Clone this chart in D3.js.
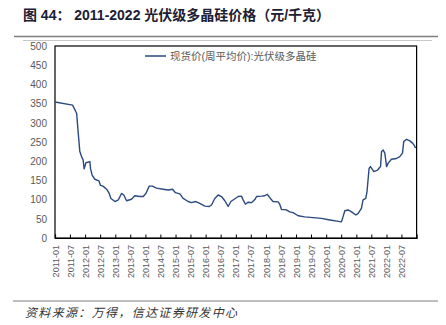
<!DOCTYPE html>
<html><head><meta charset="utf-8">
<script src="https://cdn.jsdelivr.net/npm/d3@7"></script>
<style>body{margin:0;background:#fff;} svg{display:block}</style>
</head><body>
<svg id="c" width="446" height="325"></svg>
<script>
const dates = ["2011-01-01","2011-08-02","2011-09-20","2011-10-09","2011-10-29","2011-11-19","2011-12-08","2011-12-20","2012-01-11","2012-02-28","2012-03-07","2012-03-26","2012-04-28","2012-06-16","2012-07-06","2012-08-04","2012-09-18","2012-10-19","2012-11-09","2012-12-28","2013-02-06","2013-03-17","2013-04-14","2013-05-17","2013-07-16","2013-08-26","2013-10-26","2013-12-05","2014-01-07","2014-02-16","2014-03-25","2014-05-15","2014-08-04","2014-10-04","2014-11-26","2014-12-30","2015-02-23","2015-04-03","2015-06-03","2015-07-13","2015-09-04","2015-10-22","2015-12-22","2016-02-13","2016-03-12","2016-04-21","2016-06-01","2016-07-11","2016-08-21","2016-09-30","2016-11-02","2016-12-12","2017-01-30","2017-03-10","2017-03-29","2017-04-28","2017-05-29","2017-07-10","2017-08-19","2017-09-09","2017-11-09","2017-12-18","2018-01-16","2018-02-24","2018-03-28","2018-05-28","2018-06-17","2018-07-08","2018-08-29","2018-10-17","2018-11-26","2019-01-27","2019-04-16","2019-07-26","2019-11-05","2020-02-15","2020-05-12","2020-07-04","2020-07-23","2020-08-14","2020-09-23","2020-11-04","2020-12-26","2021-01-23","2021-03-03","2021-03-23","2021-04-25","2021-05-10","2021-06-04","2021-06-21","2021-08-01","2021-09-15","2021-10-21","2021-11-02","2021-11-22","2021-12-12","2022-01-02","2022-01-22","2022-03-02","2022-05-02","2022-06-11","2022-07-14","2022-07-29","2022-09-01","2022-10-11","2022-11-13","2022-12-02","2022-12-19"];
const prices = [354,346,325,275,225,212,203,180,196,199,180,164,153,149,137,135,127,116,103,95,99,116,112,97,101,110,108,108,116,135,135,130,127,125,127,118,115,103,95,92,95,90,83,82,86,103,112,108,97,82,95,101,108,109,100,88,93,92,100,108,109,110,114,103,95,94,88,74,74,68,66,58,55,53,51,47,44,42,55,71,73,68,60,64,77,99,103,121,181,186,173,177,186,225,229,221,186,195,205,207,212,221,251,257,253,247,242,234];
const xTickLabels = ["2011-01","2011-07","2012-01","2012-07","2013-01","2013-07","2014-01","2014-07","2015-01","2015-07","2016-01","2016-07","2017-01","2017-07","2018-01","2018-07","2019-01","2019-07","2020-01","2020-07","2021-01","2021-07","2022-01","2022-07"];
const yTicks = [0,50,100,150,200,250,300,350,400,450,500];
const seriesName = "现货价(周平均价):光伏级多晶硅";
const titleText = "图 44： 2011-2022 光伏级多晶硅价格（元/千克）";
const sourceText = "资料来源：万得，信达证券研发中心";

const svg = d3.select("#c");
const parse = d3.timeParse("%Y-%m-%d");
const parseM = d3.timeParse("%Y-%m");
const data = dates.map((d,i)=>({d:parse(d), v:prices[i]}));

const L=55, R=416.6, T=46, B=238;
const x = d3.scaleTime().domain([parse("2011-01-01"), parse("2023-01-01")]).range([L,R]);
const y = d3.scaleLinear().domain([0,500]).range([B,T]);

const font = "'Liberation Sans', Arial, 'Noto Sans CJK SC', sans-serif";
const cjk = "'Liberation Sans', 'Noto Sans CJK SC', sans-serif";

// title
svg.append("text").attr("x",23).attr("y",20)
  .attr("font-family",cjk).attr("font-weight","bold").attr("font-size",14)
  .attr("fill","#1c2033").attr("textLength",307).attr("lengthAdjust","spacing").text(titleText);
// header lines
svg.append("line").attr("x1",14).attr("x2",438).attr("y1",36.5).attr("y2",36.5)
  .attr("stroke","#7f7f7f").attr("stroke-width",1.6);
svg.append("line").attr("x1",23).attr("x2",432).attr("y1",40.5).attr("y2",40.5)
  .attr("stroke","#c8c8c8").attr("stroke-width",1);

// plot box
svg.append("rect").attr("x",L).attr("y",T).attr("width",R-L).attr("height",B-T)
  .attr("fill","none").attr("stroke","#000").attr("stroke-width",1.2);

// y axis labels
const yAxis = d3.axisLeft(y).tickValues(yTicks).tickSize(0).tickPadding(8);
const gy = svg.append("g").attr("transform",`translate(${L},0)`).call(yAxis);
gy.select(".domain").remove();
gy.selectAll("text").attr("font-family",font).attr("font-size",10).attr("fill","#595959");

// x axis
const xAxis = d3.axisBottom(x).tickValues(xTickLabels.map(parseM)).tickSize(-3.5).tickFormat(d3.timeFormat("%Y-%m"));
const gx = svg.append("g").attr("transform",`translate(0,${B})`).call(xAxis);
gx.select(".domain").attr("stroke","#000").attr("stroke-width",1.2);
gx.selectAll(".tick line").attr("stroke","#000").attr("stroke-width",1);
gx.selectAll("text").attr("font-family",font).attr("font-size",9).attr("fill","#595959")
  .attr("text-anchor","end").attr("transform","rotate(-90)")
  .attr("x",-7).attr("y",0).attr("dy","0.35em");

// line
const line = d3.line().x(d=>x(d.d)).y(d=>y(d.v)).curve(d3.curveLinear);
svg.append("path").datum(data).attr("d",line).attr("fill","none")
  .attr("stroke","#2a4a80").attr("stroke-width",1.4).attr("stroke-linejoin","round");

// legend
svg.append("line").attr("x1",145).attr("x2",166).attr("y1",56).attr("y2",56)
  .attr("stroke","#2a4a80").attr("stroke-width",1.5);
svg.append("text").attr("x",170).attr("y",59.5).attr("font-family",cjk)
  .attr("font-size",10.5).attr("fill","#595959").text(seriesName);

// footer
svg.append("line").attr("x1",13).attr("x2",438).attr("y1",301).attr("y2",301)
  .attr("stroke","#7f7f7f").attr("stroke-width",1);
svg.append("text").attr("x",25).attr("y",317).attr("font-family","'Noto Sans CJK SC', sans-serif")
  .attr("font-style","italic").attr("font-size",12).attr("fill","#333")
  .attr("textLength",212).attr("lengthAdjust","spacing").text(sourceText);
</script>
</body></html>
